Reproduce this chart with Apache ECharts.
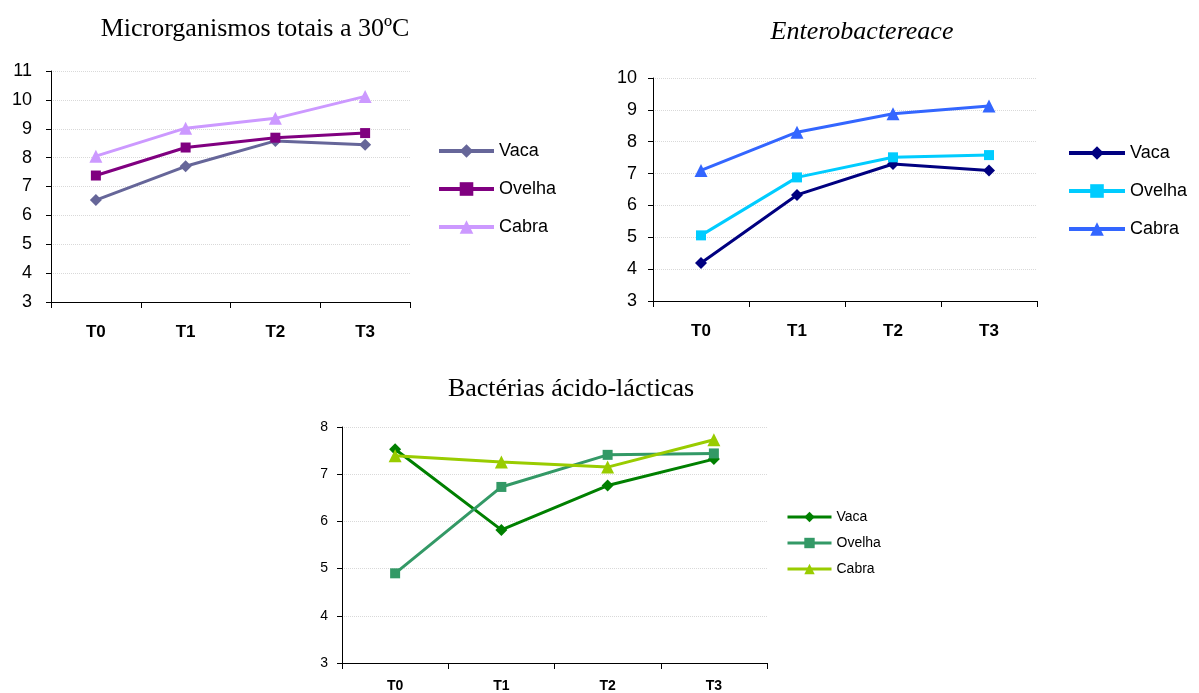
<!DOCTYPE html>
<html><head><meta charset="utf-8">
<script src="https://cdn.jsdelivr.net/npm/echarts@6/dist/echarts.min.js"></script>
<style>html,body{margin:0;padding:0;background:#fff}#c{width:1199px;height:693px}</style>
</head><body><div id="c"></div>
<script>
const categories = ['T0','T1','T2','T3'];
const seriesNames = ['Vaca','Ovelha','Cabra'];
const titles = ['Microrganismos totais a 30ºC','Enterobactereace','Bactérias ácido-lácticas'];
// Chart 1: Microrganismos totais a 30ºC
const micro_vaca   = [6.53, 7.70, 8.58, 8.45];
const micro_ovelha = [7.38, 8.35, 8.69, 8.85];
const micro_cabra  = [8.05, 9.02, 9.36, 10.12];
// Chart 2: Enterobactereace
const entero_vaca   = [4.19, 6.33, 7.30, 7.10];
const entero_ovelha = [5.06, 6.88, 7.51, 7.58];
const entero_cabra  = [7.10, 8.30, 8.88, 9.12];
// Chart 3: Bactérias ácido-lácticas
const lab_vaca   = [7.53, 5.82, 6.76, 7.32];
const lab_ovelha = [4.90, 6.73, 7.41, 7.44];
const lab_cabra  = [7.39, 7.26, 7.15, 7.73];

const chartData = [
  [micro_vaca, micro_ovelha, micro_cabra],
  [entero_vaca, entero_ovelha, entero_cabra],
  [lab_vaca, lab_ovelha, lab_cabra]
];
const colors = [
  ['#666699','#800080','#CC99FF'],
  ['#000080','#00CCFF','#3366FF'],
  ['#008000','#339966','#99CC00']
];
const symbols = ['diamond','rect','triangle'];
const grids = [
  {left:51, top:71, width:359, height:231},
  {left:653, top:78, width:384, height:223},
  {left:342, top:427, width:425, height:236}
];
const yRanges = [[3,11],[3,10],[3,8]];
const big = [true,true,false];
const yMargins = [19,16,14];

const chart = echarts.init(document.getElementById('c'));
const xAxis = [], yAxis = [], series = [], legend = [];
const legendPos = [
  {left:432, top:137, gap:20, fs:18, w:55, h:17},
  {left:1062, top:139, gap:20, fs:18, w:56, h:17},
  {left:781, top:505, gap:12, fs:14, w:44, h:13}
];
for (let g=0; g<3; g++){
  xAxis.push({gridIndex:g, type:'category', data:categories, boundaryGap:true,
    axisLine:{lineStyle:{color:'#000',width:1}},
    axisTick:{show:true, alignWithLabel:false, length:6, inside:false, lineStyle:{color:'#000'}},
    axisLabel:{color:'#000', fontFamily:'Liberation Sans, Arial', fontWeight:'bold', fontSize: big[g]?17:14, margin: big[g]?22:16},
    splitLine:{show:false}});
  yAxis.push({gridIndex:g, type:'value', min:yRanges[g][0], max:yRanges[g][1], interval:1,
    axisLine:{show:true, lineStyle:{color:'#000',width:1}},
    axisTick:{show:true, length:5, lineStyle:{color:'#000'}},
    axisLabel:{color:'#000', fontFamily:'Liberation Sans, Arial', fontSize: big[g]?18:14, margin:yMargins[g]},
    splitLine:{show:true, lineStyle:{color:'#d9d9d9', width:1, type:'dotted'}}});
  const names = [];
  for (let s=0; s<3; s++){
    const nm = seriesNames[s] + '|' + g;
    names.push(nm);
    series.push({name:nm, type:'line', xAxisIndex:g, yAxisIndex:g, data:chartData[g][s],
      symbol:symbols[s], symbolSize: s===1?10:(s===0?12:13), showSymbol:true,
      lineStyle:{color:colors[g][s], width:3}, itemStyle:{color:colors[g][s]},
      animation:false, z: 2+s});
  }
  const lp = legendPos[g];
  legend.push({data:names, orient:'vertical', left:lp.left, top:lp.top, itemGap:lp.gap,
    itemWidth:lp.w, itemHeight:lp.h,
    lineStyle:{width: big[g]?4:3},
    formatter: n => n.split('|')[0],
    textStyle:{color:'#000', fontFamily:'Liberation Sans, Arial', fontSize:lp.fs}, selectedMode:false});
}
const tfont = 'Liberation Serif, Times New Roman';
const title = [
  {text:titles[0], left:250, top:11, textAlign:'center', textStyle:{fontFamily:tfont, fontWeight:'normal', fontSize:26, color:'#000'}},
  {text:titles[1], left:857, top:14, textAlign:'center', textStyle:{fontFamily:tfont, fontStyle:'italic', fontWeight:'normal', fontSize:26, color:'#000'}},
  {text:titles[2], left:566, top:371, textAlign:'center', textStyle:{fontFamily:tfont, fontWeight:'normal', fontSize:26, color:'#000'}}
];
chart.setOption({animation:false, title, grid:grids, xAxis, yAxis, series, legend});
</script></body></html>
